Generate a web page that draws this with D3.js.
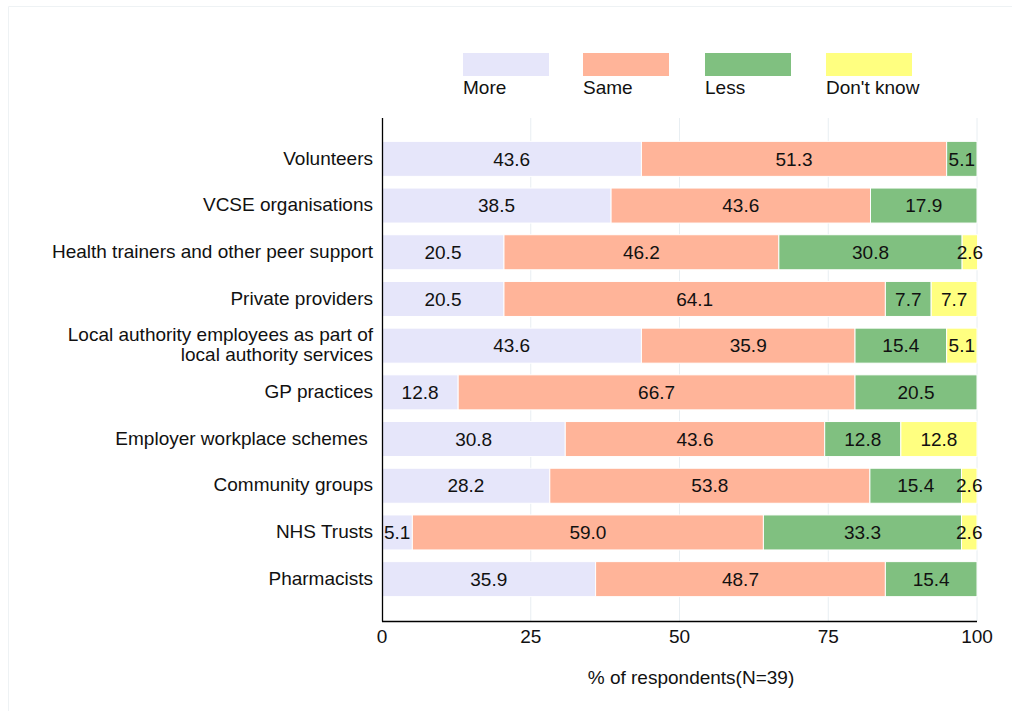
<!DOCTYPE html>
<html>
<head>
<meta charset="utf-8">
<script src="https://cdn.jsdelivr.net/npm/d3@7"></script>
<style>
  body { margin: 0; background: #fff; }
  svg { font-family: "Liberation Sans", Arial, sans-serif; }
</style>
</head>
<body>
<svg id="chart" width="1012" height="711"></svg>
<script>
var categories = ['Volunteers', 'VCSE organisations', 'Health trainers and other peer support',
  'Private providers', 'Local authority employees as part of|local authority services',
  'GP practices', 'Employer workplace schemes ', 'Community groups', 'NHS Trusts', 'Pharmacists']
var seriesNames = ['More', 'Same', 'Less', "Don't know"]
var more =     [43.6, 38.5, 20.5, 20.5, 43.6, 12.8, 30.8, 28.2,  5.1, 35.9]
var same =     [51.3, 43.6, 46.2, 64.1, 35.9, 66.7, 43.6, 53.8, 59.0, 48.7]
var less =     [ 5.1, 17.9, 30.8,  7.7, 15.4, 20.5, 12.8, 15.4, 33.3, 15.4]
var dontKnow = [ 0,    0,    2.6,  7.7,  5.1,  0,   12.8,  2.6,  2.6,  0  ]
var xTicks =   [0, 25, 50, 75, 100]

var colors = ['#e6e6fa', '#ffb499', '#80c080', '#ffff80']
var fs = 19

var svg = d3.select('#chart')

// light frame
svg.append('path')
  .attr('d', 'M8.5,711 V6.5 H1012')
  .attr('fill', 'none').attr('stroke', '#eef2f4').attr('stroke-width', 1)

var x = d3.scaleLinear().domain([0, 100]).range([382, 977])
var y = d3.scaleBand().domain(categories).range([118, 620]).paddingInner(0.25).paddingOuter(0.5)

// gridlines
svg.append('g').selectAll('line').data(xTicks.slice(1)).join('line')
  .attr('x1', d => x(d)).attr('x2', d => x(d))
  .attr('y1', 118).attr('y2', 621)
  .attr('stroke', '#e8eef2').attr('stroke-width', 1)

var rows = categories.map((c, i) => ({ cat: c, 'More': more[i], 'Same': same[i], 'Less': less[i], "Don't know": dontKnow[i] }))
var stack = d3.stack().keys(seriesNames)(rows)

var layers = svg.append('g').selectAll('g').data(stack).join('g')
  .attr('fill', (d, i) => colors[i])

layers.selectAll('rect').data(d => d.filter(s => s[1] - s[0] > 0)).join('rect')
  .attr('x', d => x(d[0]))
  .attr('y', d => y(d.data.cat))
  .attr('width', d => x(d[1]) - x(d[0]))
  .attr('height', y.bandwidth())
  .attr('stroke', '#fff').attr('stroke-width', 1)

var labels = svg.append('g').attr('font-size', fs).attr('fill', '#111').attr('text-anchor', 'middle')
stack.forEach(layer => {
  layer.forEach(s => {
    var v = s[1] - s[0]
    if (v <= 0) return
    labels.append('text')
      .attr('x', (x(s[0]) + x(s[1])) / 2)
      .attr('y', y(s.data.cat) + y.bandwidth() / 2)
      .attr('dy', '0.35em')
      .text(v.toFixed(1))
  })
})

// category labels
var catG = svg.append('g').attr('font-size', fs).attr('fill', '#111').attr('text-anchor', 'end')
categories.forEach(c => {
  var lines = c.split('|')
  var cy = y(c) + y.bandwidth() / 2
  lines.forEach((l, j) => {
    catG.append('text')
      .attr('x', 373)
      .attr('y', cy - 1 + (j - (lines.length - 1) / 2) * 20)
      .attr('dy', '0.35em')
      .attr('xml:space', 'preserve')
      .text(l)
  })
})

// axes
svg.append('line').attr('x1', 382.5).attr('x2', 382.5).attr('y1', 118).attr('y2', 621.5)
  .attr('stroke', '#000').attr('stroke-width', 1.3)
svg.append('line').attr('x1', 382).attr('x2', 977).attr('y1', 621.5).attr('y2', 621.5)
  .attr('stroke', '#000').attr('stroke-width', 1.3)

svg.append('g').attr('font-size', fs).attr('fill', '#111').attr('text-anchor', 'middle')
  .selectAll('text').data(xTicks).join('text')
  .attr('x', d => x(d)).attr('y', 643)
  .text(d => d)

svg.append('text').attr('x', 691).attr('y', 684)
  .attr('font-size', fs).attr('fill', '#111').attr('text-anchor', 'middle')
  .text('% of respondents(N=39)')

// legend
var legendX = [463, 583, 705, 826]
var lg = svg.append('g').selectAll('g').data(seriesNames).join('g')
  .attr('transform', (d, i) => `translate(${legendX[i]},53)`)
lg.append('rect').attr('width', 86).attr('height', 23).attr('fill', (d, i) => colors[i])
lg.append('text').attr('x', 0).attr('y', 41).attr('font-size', fs).attr('fill', '#111').text(d => d)
</script>
</body>
</html>
